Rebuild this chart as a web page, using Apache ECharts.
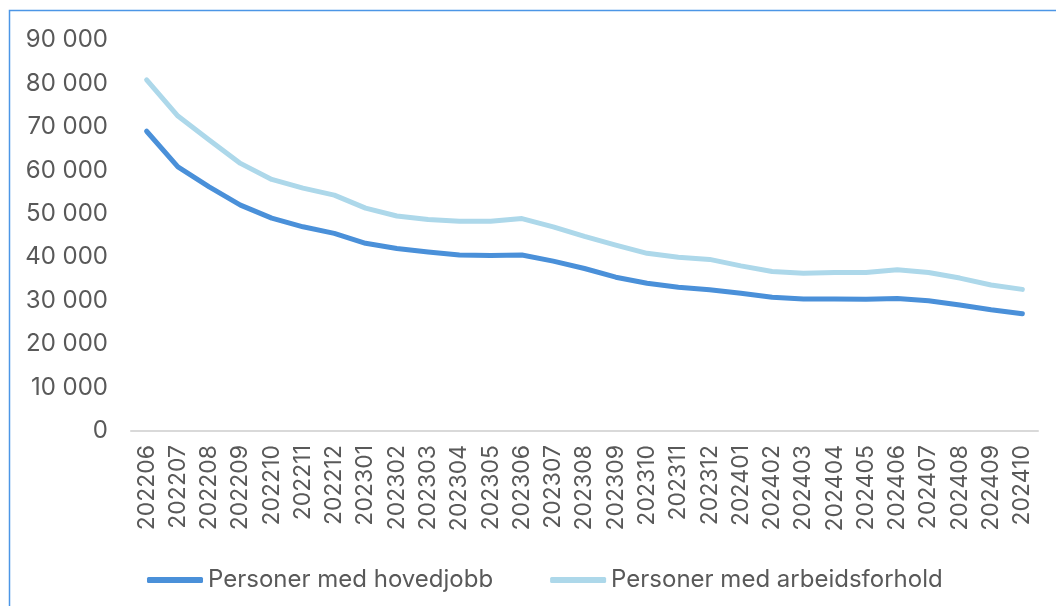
<!DOCTYPE html>
<html>
<head>
<meta charset="utf-8">
<script src="https://cdn.jsdelivr.net/npm/echarts@6/dist/echarts.min.js"></script>
<style>
  html, body { margin: 0; padding: 0; background: #fff; }
  #chart { width: 1056px; height: 606px; }
</style>
</head>
<body>
<div id="chart"></div>
<script>
// months on the x axis
const months = [
  '202206', '202207', '202208', '202209', '202210', '202211', '202212',
  '202301', '202302', '202303', '202304', '202305', '202306', '202307',
  '202308', '202309', '202310', '202311', '202312', '202401', '202402',
  '202403', '202404', '202405', '202406', '202407', '202408', '202409',
  '202410'
]

const seriesNames = ['Personer med hovedjobb', 'Personer med arbeidsforhold']

// Personer med hovedjobb
const hovedjobb = [
  69000, 60800, 56200, 52000, 49000, 47000, 45500, 43200, 42000, 41200,
  40500, 40400, 40500, 39100, 37400, 35400, 34000, 33100, 32500, 31700,
  30800, 30400, 30400, 30300, 30500, 30000, 29000, 27900, 27000
]

// Personer med arbeidsforhold
const arbeidsforhold = [
  80800, 72500, 67000, 61600, 57900, 55900, 54300, 51300, 49500, 48700,
  48300, 48300, 48900, 47000, 44800, 42800, 40900, 40000, 39500, 38000,
  36700, 36300, 36500, 36500, 37100, 36500, 35200, 33600, 32600
]

const yTicks = { min: 0, max: 90000, interval: 10000 }

const textColor = '#595959'
const fontFamily = 'Inter, Roboto, sans-serif'

const chart = echarts.init(document.getElementById('chart'))

chart.setOption({
  animation: false,
  color: ['#4a90d9', '#add8ea'],
  textStyle: { fontFamily: fontFamily, color: textColor },
  // frame round the chart (top and left edges are visible)
  graphic: [{
    type: 'rect',
    silent: true,
    shape: { x: 9.5, y: 10.5, width: 2000, height: 2000 },
    style: { fill: 'none', stroke: '#4c96e6', lineWidth: 1.5 }
  }],
  grid: {
    left: 131,
    right: 18,
    top: 40,
    bottom: 175,
    containLabel: false
  },
  legend: {
    left: 142,
    top: 563,
    itemWidth: 56,
    itemHeight: 6,
    itemGap: 57,
    icon: 'roundRect',
    textStyle: { fontSize: 24, color: textColor, fontFamily: fontFamily },
    data: seriesNames
  },
  xAxis: {
    type: 'category',
    data: months,
    boundaryGap: true,
    axisLine: { lineStyle: { color: '#d9d9d9', width: 2 } },
    axisTick: { show: false },
    axisLabel: {
      rotate: 90,
      interval: 0,
      margin: 14,
      fontSize: 23,
      color: textColor,
      fontFamily: fontFamily
    }
  },
  yAxis: {
    type: 'value',
    min: yTicks.min,
    max: yTicks.max,
    interval: yTicks.interval,
    splitLine: { show: false },
    axisLine: { show: false },
    axisTick: { show: false },
    axisLabel: {
      margin: 23,
      fontSize: 24,
      color: textColor,
      fontFamily: fontFamily,
      formatter: function (v) {
        return String(v).replace(/\B(?=(\d{3})+(?!\d))/g, ' ')
      }
    }
  },
  series: [
    {
      name: seriesNames[0],
      type: 'line',
      data: hovedjobb,
      symbol: 'none',
      lineStyle: { width: 5, cap: 'round', join: 'round' }
    },
    {
      name: seriesNames[1],
      type: 'line',
      data: arbeidsforhold,
      symbol: 'none',
      lineStyle: { width: 5, cap: 'round', join: 'round' }
    }
  ]
})
</script>
</body>
</html>
